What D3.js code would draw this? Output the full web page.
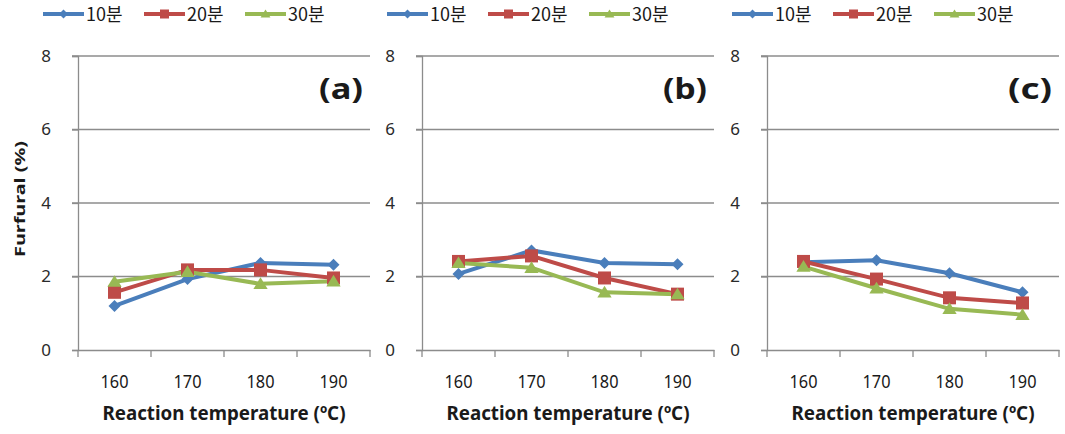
<!DOCTYPE html>
<html><head><meta charset="utf-8">
<script src="https://cdn.jsdelivr.net/npm/d3@7"></script>
<style>body{margin:0;background:#fff}svg{display:block}</style>
</head><body>
<svg id="c" width="1065" height="434"></svg>
<script>
const categories = ["160", "170", "180", "190"];
const seriesNames = ["10분", "20분", "30분"];
const panelLabels = ["(a)", "(b)", "(c)"];
const yTicks = [0, 2, 4, 6, 8];
// panel (a)
const a10 = [1.2, 1.93, 2.37, 2.32];
const a20 = [1.57, 2.18, 2.18, 1.96];
const a30 = [1.86, 2.13, 1.8, 1.87];
// panel (b)
const b10 = [2.07, 2.71, 2.37, 2.33];
const b20 = [2.41, 2.56, 1.96, 1.52];
const b30 = [2.37, 2.24, 1.57, 1.52];
// panel (c)
const c10 = [2.39, 2.44, 2.09, 1.57];
const c20 = [2.41, 1.93, 1.42, 1.28];
const c30 = [2.27, 1.68, 1.12, 0.96];

const panelData = [[a10, a20, a30], [b10, b20, b30], [c10, c20, c30]];
const colors = ["#4A7EBB", "#BE4B48", "#98B954"];
const panelLeft = [78, 422, 767];
const panelW = 292;
const svg = d3.select("#c");
const y = d3.scaleLinear().domain([0, 8]).range([350, 56]);
const grid = "#8c8c8c";

function marker(g, k, cx, cy, s) {
  if (k === 0) {
    g.append("path").attr("d", `M${cx},${cy - s}L${cx + s},${cy}L${cx},${cy + s}L${cx - s},${cy}Z`).attr("fill", colors[0]);
  } else if (k === 1) {
    g.append("rect").attr("x", cx - s).attr("y", cy - s).attr("width", 2 * s).attr("height", 2 * s).attr("fill", colors[1]);
  } else {
    g.append("path").attr("d", `M${cx},${cy - s}L${cx + s * 1.1},${cy + s * 0.8}L${cx - s * 1.1},${cy + s * 0.8}Z`).attr("fill", colors[2]);
  }
}

panelData.forEach((ser, p) => {
  const x0 = panelLeft[p];
  const x = d3.scaleBand().domain(categories).range([x0, x0 + panelW]);
  const g = svg.append("g");
  yTicks.filter(t => t > 0).forEach(t => {
    g.append("line").attr("x1", x0 - 6).attr("x2", x0 + panelW).attr("y1", y(t)).attr("y2", y(t))
      .attr("stroke", grid).attr("stroke-width", 1.3);
  });
  const ya = g.append("g").attr("transform", `translate(${x0},0)`).call(d3.axisLeft(y).tickValues(yTicks).tickSize(6).tickPadding(21));
  ya.select(".domain").attr("stroke", grid).attr("stroke-width", 1.3);
  ya.selectAll(".tick line").attr("stroke", grid).attr("stroke-width", 1.3);
  ya.selectAll(".tick text").attr("font-family", "'Noto Sans', sans-serif").attr("font-size", 17).attr("fill", "#2a2a2a");
  const xa = g.append("g").attr("transform", `translate(0,${y(0)})`).call(d3.axisBottom(x).tickSize(0).tickPadding(25));
  xa.select(".domain").attr("stroke", grid).attr("stroke-width", 1.3);
  xa.selectAll(".tick text").attr("font-family", "'Noto Sans', sans-serif").attr("font-size", 18).attr("fill", "#1a1a1a")
    .attr("textLength", 28).attr("lengthAdjust", "spacingAndGlyphs");
  [...categories.map(c => x(c)), x0 + panelW].forEach(v => {
    g.append("line").attr("x1", v).attr("x2", v).attr("y1", y(0)).attr("y2", y(0) + 7).attr("stroke", grid).attr("stroke-width", 1.3);
  });
  g.append("text").attr("x", x0 + panelW / 2).attr("y", 420).attr("text-anchor", "middle")
    .attr("font-family", "'Noto Sans', sans-serif").attr("font-weight", "bold").attr("font-size", 19).attr("fill", "#1a1a1a")
    .attr("textLength", 243).attr("lengthAdjust", "spacingAndGlyphs")
    .text("Reaction temperature (ºC)");
  g.append("text").attr("x", x0 + panelW - 7).attr("y", 99).attr("text-anchor", "end")
    .attr("font-family", "'Noto Sans', sans-serif").attr("font-weight", "bold").attr("font-size", 29).attr("fill", "#1a1a1a")
    .attr("textLength", 44).attr("lengthAdjust", "spacingAndGlyphs")
    .text(panelLabels[p]);
  ser.forEach((vals, k) => {
    const line = d3.line().x((d, i) => x(categories[i]) + x.bandwidth() / 2).y(d => y(d));
    g.append("path").datum(vals).attr("d", line).attr("fill", "none").attr("stroke", colors[k]).attr("stroke-width", 4);
  });
  ser.forEach((vals, k) => {
    vals.forEach((v, i) => marker(g, k, x(categories[i]) + x.bandwidth() / 2, y(v), k === 0 ? 6 : 6.5));
  });
  const lg = svg.append("g");
  seriesNames.forEach((n, k) => {
    const lx = x0 - 35 + k * 101;
    lg.append("line").attr("x1", lx).attr("x2", lx + 41).attr("y1", 14).attr("y2", 14).attr("stroke", colors[k]).attr("stroke-width", 4);
    marker(lg, k, lx + 20.5, 14, 4.5);
    lg.append("text").attr("x", lx + 43).attr("y", 20.5).attr("font-family", "'Noto Sans CJK KR', sans-serif")
      .attr("font-size", 18).attr("fill", "#1a1a1a").text(n);
  });
});
svg.append("text").attr("transform", "translate(25,199) rotate(-90)").attr("text-anchor", "middle")
  .attr("font-family", "'Noto Sans', sans-serif").attr("font-weight", "bold").attr("font-size", 14).attr("fill", "#1a1a1a")
  .attr("textLength", 116).attr("lengthAdjust", "spacingAndGlyphs")
  .text("Furfural (%)");
</script>
</body></html>
